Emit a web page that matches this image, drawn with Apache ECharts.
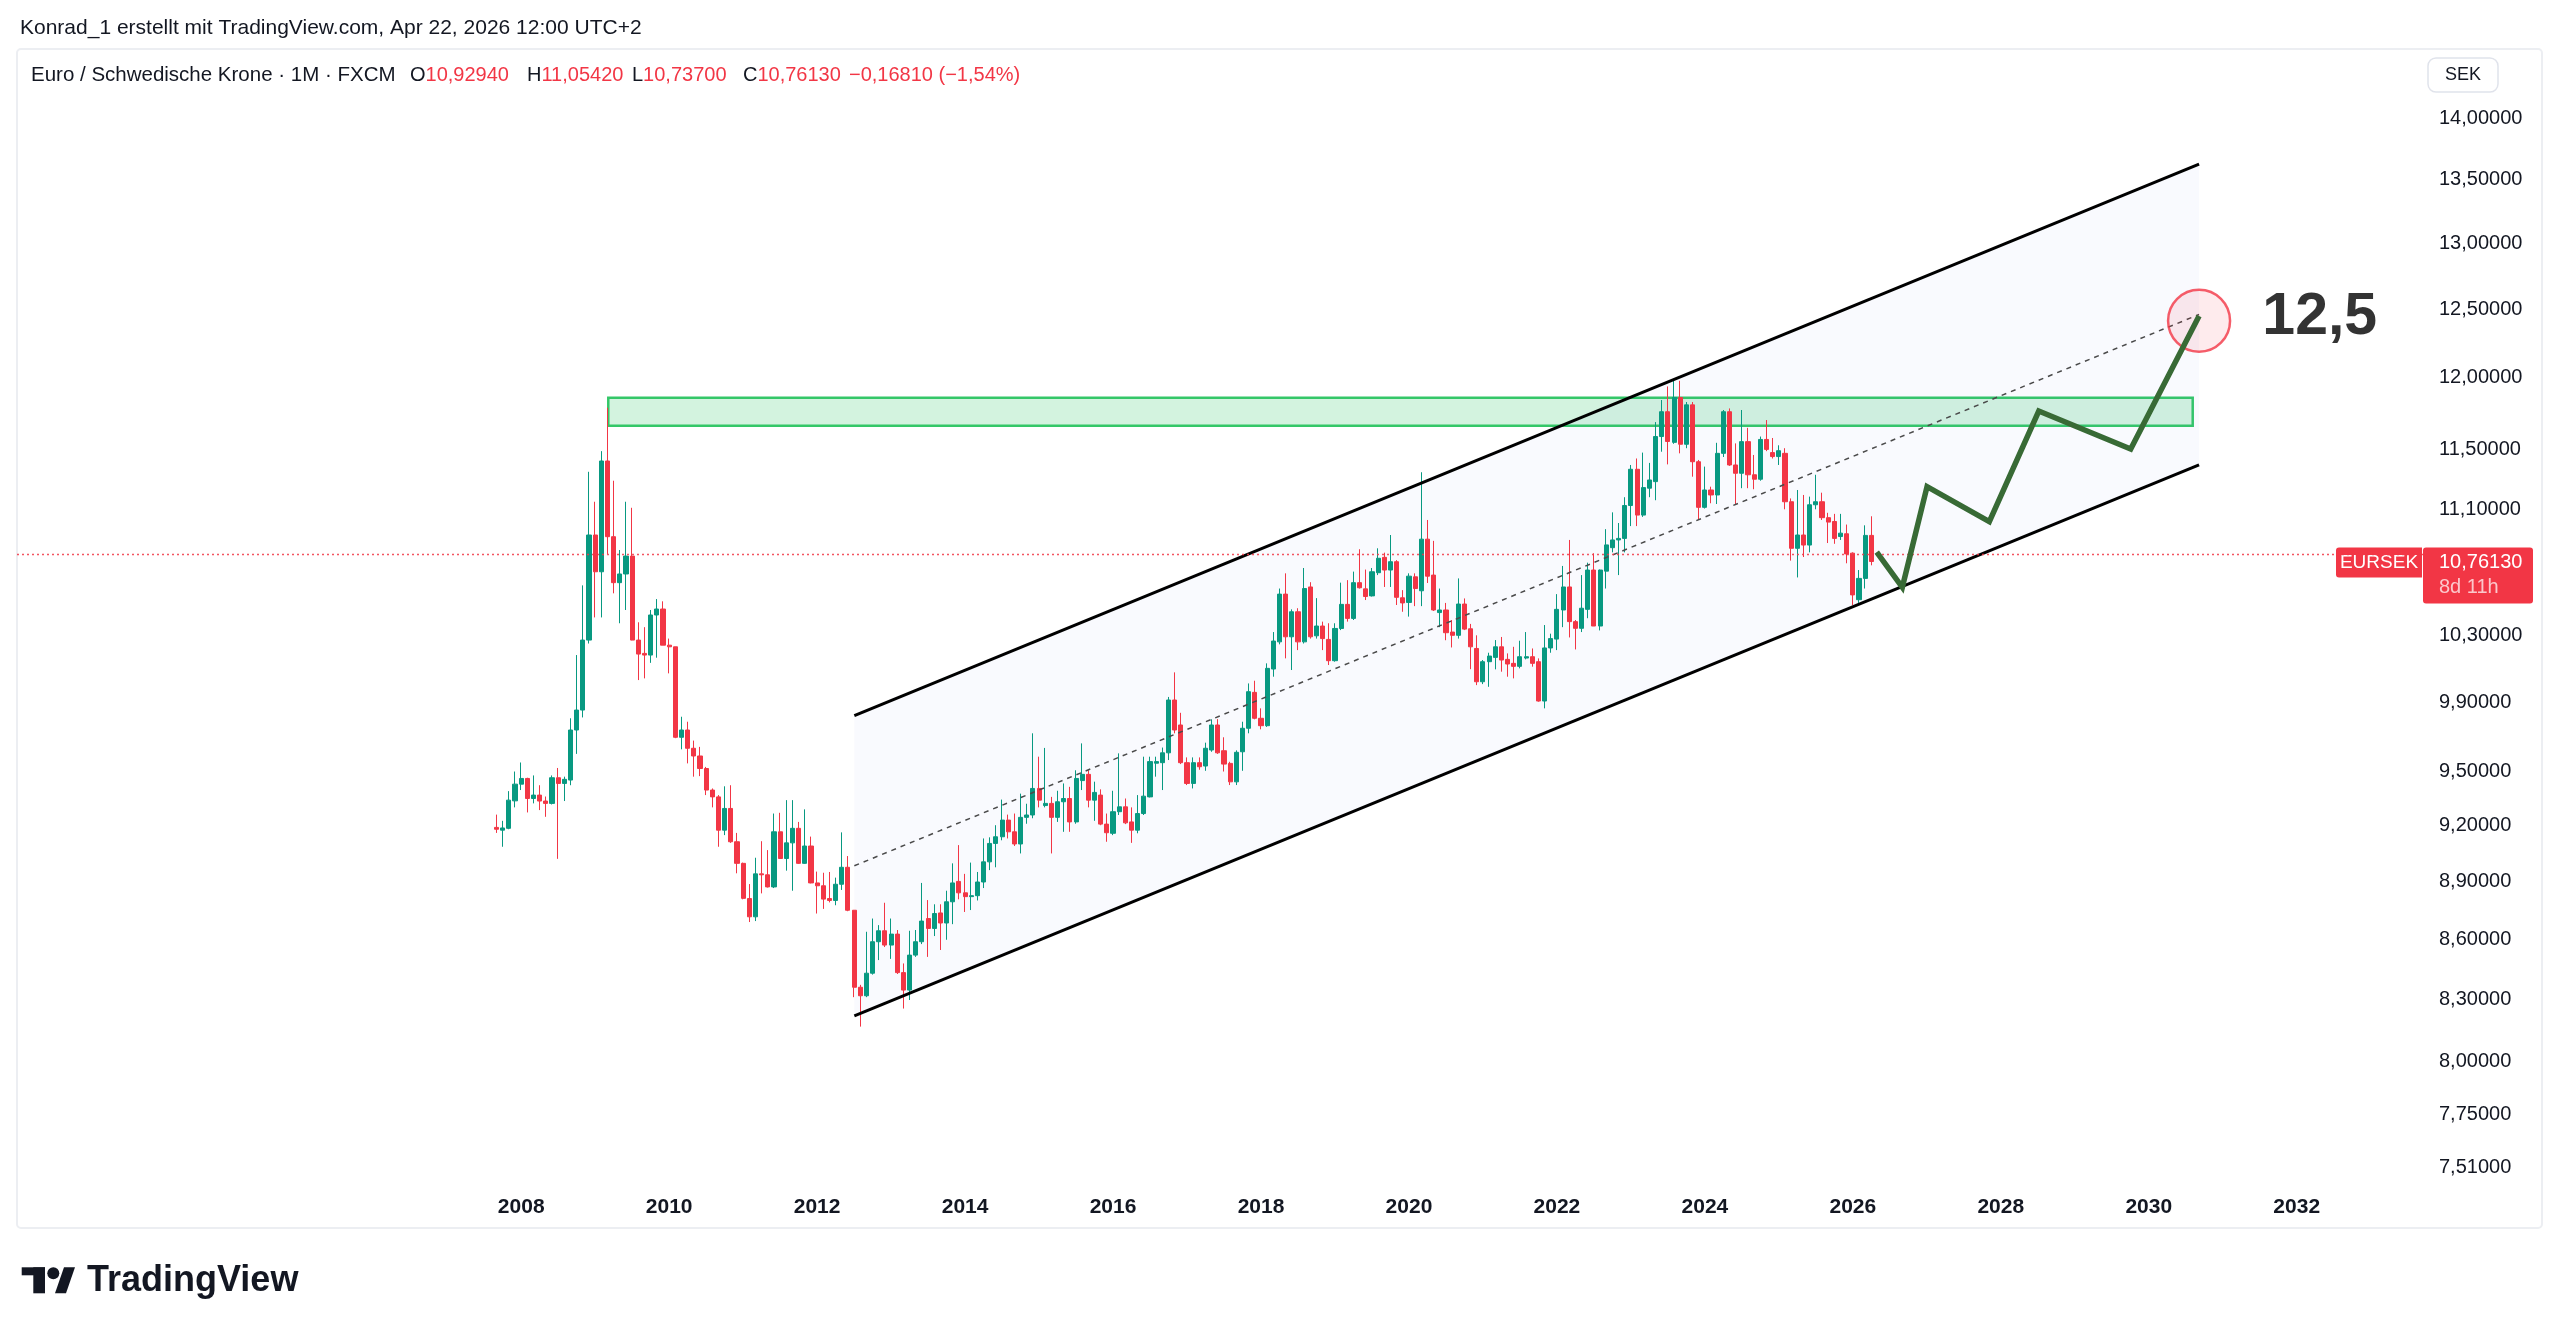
<!DOCTYPE html>
<html>
<head>
<meta charset="utf-8">
<title>Euro / Schwedische Krone</title>
<script src="https://cdn.jsdelivr.net/npm/echarts@6/dist/echarts.min.js"></script>
<style>
  html, body { margin: 0; padding: 0; background: #fff; }
  #chart { width: 2560px; height: 1335px; }
</style>
</head>
<body>
<div id="chart"></div>
<script>
// monthly candles [open, high, low, close], first one is Sep 2007
const firstYear = 2007, firstMonth = 9;
const candles = [
  [9.19,9.26,9.16,9.18],[9.175,9.226,9.085,9.187],[9.185,9.39,9.18,9.34],[9.336,9.5,9.3,9.429],
  [9.429,9.551,9.396,9.461],[9.461,9.465,9.272,9.349],[9.349,9.478,9.322,9.368],[9.368,9.423,9.285,9.335],[9.335,9.36,9.248,9.322],[9.322,9.478,9.316,9.465],[9.465,9.52,9.02,9.433],[9.433,9.471,9.335,9.456],[9.452,9.805,9.423,9.737],[9.737,10.18,9.6,9.853],[9.853,10.61,9.81,10.271],[10.271,11.35,10.25,10.932],
  [10.932,11.15,10.41,10.696],[10.696,11.49,10.41,11.423],[11.423,11.79,10.81,10.921],[10.921,11.29,10.56,10.627],[10.627,10.835,10.374,10.682],[10.682,11.15,10.456,10.796],[10.796,11.11,10.27,10.271],[10.271,10.38,10.03,10.186],[10.19,10.35,10.04,10.18],[10.18,10.456,10.133,10.425],[10.425,10.524,10.164,10.462],[10.462,10.51,10.24,10.24],
  [10.24,10.28,10.07,10.23],[10.23,10.23,9.69,9.695],[9.695,9.814,9.626,9.737],[9.737,9.785,9.546,9.632],[9.632,9.676,9.471,9.588],[9.588,9.64,9.474,9.517],[9.517,9.526,9.368,9.396],[9.396,9.405,9.3,9.358],[9.358,9.368,9.085,9.175],[9.175,9.417,9.148,9.294],[9.294,9.423,9.106,9.112],[9.112,9.16,8.943,8.996],
  [8.996,9.0,8.806,8.811],[8.81,8.886,8.688,8.715],[8.715,9.026,8.693,8.94],[8.94,9.115,8.837,8.935],[8.935,9.067,8.868,8.871],[8.871,9.266,8.865,9.166],[9.166,9.27,9.02,9.022],[9.022,9.34,8.957,9.106],[9.106,9.34,8.851,9.185],[9.185,9.22,8.993,8.996],[8.996,9.289,8.993,9.089],[9.089,9.14,8.89,8.892],
  [8.892,8.952,8.732,8.877],[8.877,8.946,8.756,8.807],[8.81,8.95,8.79,8.8],[8.8,8.92,8.775,8.885],[8.885,9.163,8.855,8.975],[8.975,9.035,8.744,8.749],[8.749,8.749,8.309,8.358],[8.358,8.37,8.165,8.316],[8.316,8.638,8.309,8.428],[8.428,8.706,8.421,8.587],[8.587,8.672,8.494,8.643],[8.643,8.788,8.56,8.57],
  [8.57,8.706,8.5,8.626],[8.626,8.647,8.424,8.431],[8.431,8.477,8.253,8.344],[8.344,8.643,8.295,8.519],[8.519,8.647,8.51,8.587],[8.587,8.892,8.575,8.693],[8.706,8.802,8.51,8.655],[8.655,8.78,8.616,8.732],[8.735,8.78,8.545,8.683],[8.683,8.851,8.597,8.793],[8.793,8.996,8.677,8.892],[8.9,9.094,8.806,8.84],
  [8.84,8.94,8.74,8.82],[8.82,9.0,8.75,8.825],[8.825,8.95,8.8,8.897],[8.897,9.13,8.865,9.004],[9.004,9.136,8.96,9.103],[9.103,9.202,8.975,9.139],[9.139,9.343,9.12,9.23],[9.23,9.26,9.13,9.166],[9.166,9.266,9.089,9.1],[9.1,9.376,9.049,9.245],[9.245,9.32,9.21,9.258],[9.258,9.718,9.24,9.405],
  [9.405,9.584,9.3,9.34],[9.31,9.634,9.3,9.322],[9.322,9.358,9.049,9.245],[9.245,9.392,9.22,9.331],[9.331,9.433,9.166,9.349],[9.349,9.414,9.166,9.22],[9.22,9.507,9.21,9.461],[9.449,9.66,9.396,9.484],[9.484,9.507,9.3,9.34],[9.34,9.443,9.226,9.383],[9.368,9.4,9.202,9.208],[9.208,9.266,9.112,9.161],
  [9.158,9.392,9.148,9.276],[9.276,9.603,9.258,9.303],[9.303,9.349,9.208,9.215],[9.22,9.3,9.106,9.175],[9.175,9.368,9.158,9.266],[9.266,9.584,9.258,9.362],[9.358,9.584,9.355,9.556],[9.547,9.584,9.471,9.556],[9.55,9.636,9.396,9.606],[9.606,9.93,9.565,9.912],[9.912,10.076,9.718,9.737],[9.766,9.837,9.542,9.55],
  [9.55,9.58,9.424,9.433],[9.433,9.58,9.405,9.55],[9.55,9.58,9.51,9.527],[9.531,9.664,9.504,9.632],[9.622,9.799,9.612,9.766],[9.766,9.8,9.6,9.606],[9.618,9.695,9.5,9.542],[9.546,9.555,9.424,9.442],[9.442,9.62,9.424,9.609],[9.612,9.785,9.504,9.747],[9.747,10.01,9.718,9.961],[9.957,10.026,9.799,9.805],
  [9.805,9.863,9.741,9.762],[9.762,10.13,9.755,10.1],[10.096,10.32,10.05,10.265],[10.26,10.59,10.245,10.555],[10.555,10.686,10.16,10.291],[10.291,10.46,10.09,10.445],[10.445,10.467,10.21,10.26],[10.26,10.72,10.25,10.59],[10.6,10.63,10.28,10.291],[10.297,10.53,10.28,10.357],[10.357,10.384,10.21,10.28],[10.275,10.374,10.12,10.146],
  [10.146,10.374,10.14,10.342],[10.342,10.627,10.332,10.491],[10.491,10.643,10.384,10.404],[10.404,10.697,10.394,10.627],[10.627,10.84,10.59,10.595],[10.588,10.71,10.518,10.54],[10.544,10.72,10.54,10.696],[10.69,10.846,10.675,10.782],[10.788,10.818,10.6,10.707],[10.707,10.932,10.6,10.76],[10.76,10.77,10.487,10.535],[10.532,10.58,10.445,10.5],
  [10.503,10.686,10.415,10.668],[10.664,10.686,10.48,10.59],[10.576,11.347,10.48,10.905],[10.905,11.03,10.625,10.668],[10.675,10.894,10.45,10.456],[10.44,10.59,10.35,10.456],[10.456,10.5,10.27,10.316],[10.32,10.394,10.226,10.3],[10.3,10.654,10.28,10.493],[10.493,10.528,10.332,10.338],[10.34,10.37,10.095,10.23],[10.22,10.3,10.0,10.02],
  [10.02,10.15,10.006,10.14],[10.14,10.194,9.99,10.174],[10.166,10.271,10.094,10.23],[10.23,10.29,10.08,10.15],[10.154,10.19,10.05,10.126],[10.13,10.23,10.04,10.112],[10.112,10.267,10.1,10.17],[10.162,10.32,10.154,10.17],[10.17,10.22,10.11,10.13],[10.14,10.16,9.902,9.906],[9.906,10.363,9.863,10.223],[10.223,10.31,10.194,10.28],
  [10.277,10.555,10.21,10.46],[10.456,10.733,10.35,10.6],[10.6,10.9,10.287,10.384],[10.384,10.394,10.214,10.343],[10.343,10.675,10.32,10.467],[10.46,10.754,10.405,10.707],[10.707,10.814,10.357,10.357],[10.357,10.71,10.33,10.707],[10.7,10.97,10.59,10.868],[10.85,11.08,10.82,10.9],[10.9,11.01,10.675,10.91],[10.91,11.18,10.82,11.125],
  [11.125,11.396,10.99,11.367],[11.367,11.44,10.99,11.062],[11.062,11.48,11.05,11.244],[11.24,11.41,11.18,11.295],[11.284,11.69,11.16,11.59],[11.59,11.844,11.486,11.762],[11.762,11.94,11.4,11.556],[11.55,11.986,11.54,11.862],[11.862,11.98,11.475,11.537],[11.537,11.83,11.51,11.81],[11.81,11.83,11.317,11.418],[11.418,11.43,11.03,11.113],
  [11.113,11.385,11.105,11.228],[11.228,11.25,11.14,11.195],[11.195,11.547,11.135,11.475],[11.475,11.774,11.45,11.762],[11.762,11.785,11.39,11.396],[11.396,11.543,11.135,11.34],[11.34,11.774,11.24,11.555],[11.555,11.65,11.24,11.33],[11.33,11.464,11.233,11.3],[11.3,11.59,11.29,11.57],[11.57,11.704,11.49,11.502],[11.48,11.58,11.44,11.453],
  [11.453,11.53,11.396,11.493],[11.475,11.51,11.1,11.15],[11.15,11.172,10.767,10.846],[10.846,11.228,10.66,10.932],[10.932,11.195,10.79,10.867],[10.867,11.184,10.82,11.13],[11.13,11.33,11.1,11.15],[11.15,11.21,11.03,11.045],[11.045,11.077,10.88,11.016],[11.02,11.07,10.875,10.91],[10.922,11.07,10.9,10.944],[10.94,11.0,10.75,10.81],
  [10.815,10.82,10.487,10.55],[10.52,10.707,10.5,10.654],[10.654,10.995,10.59,10.9294],[10.9294,11.0542,10.737,10.7613]
];

const priceTicks = [14, 13.5, 13, 12.5, 12, 11.5, 11.1, 10.3, 9.9, 9.5, 9.2, 8.9, 8.6, 8.3, 8, 7.75, 7.51];
const yearTicks = [2008, 2010, 2012, 2014, 2016, 2018, 2020, 2022, 2024, 2026, 2028, 2030, 2032];

// parallel channel, time in years
const channelTime = [2012.503, 2030.68];
const channelUpper = [9.82, 13.625];
const channelMid = [8.983, 12.461];
const channelLower = [8.217, 11.396];

// resistance zone
const zoneTime = [2009.177, 2030.594];
const zonePrice = [11.665, 11.86];

// projected path
const pathTime = [2026.323, 2026.669, 2027.003, 2027.845, 2028.513, 2029.756, 2030.68];
const pathPrice = [10.821, 10.598, 11.25, 11.019, 11.767, 11.504, 12.45];

// target
const targetTime = 2030.68, targetPrice = 12.415, targetText = '12,5';

const author = 'Konrad_1 erstellt mit TradingView.com, Apr 22, 2026 12:00 UTC+2';
const symbolName = 'Euro / Schwedische Krone · 1M · FXCM';
const tickerName = 'EURSEK', currency = 'SEK', countdown = '8d 11h';

const FONT = '"Liberation Sans", Arial, sans-serif';
const UP = '#089981', DOWN = '#f23645', TXT = '#131722';

const ln = Math.log;
const fmt = v => v.toFixed(5).replace('.', ',');

const candleData = candles.map((c, i) => [
  firstYear + (firstMonth - 1 + i) / 12, ln(c[0]), ln(c[3]), ln(c[2]), ln(c[1])
]);
const last = candles[candles.length - 1];
const prevClose = candles[candles.length - 2][3];
const lastClose = last[3];
const change = lastClose - prevClose;
const changePct = change / prevClose * 100;

const chart = echarts.init(document.getElementById('chart'));

const option = {
  animation: false,
  backgroundColor: '#fff',
  grid: { left: 17, right: 137, top: 49, bottom: 148, containLabel: false, outerBoundsMode: 'none' },
  xAxis: {
    type: 'value',
    min: 2001.1846,
    max: 2033.7069,
    axisLine: { show: false },
    axisTick: { show: false },
    splitLine: { show: false },
    axisLabel: {
      customValues: yearTicks,
      formatter: v => String(Math.round(v)),
      color: TXT, fontSize: 21, fontWeight: 'bold', fontFamily: FONT, margin: 10
    }
  },
  yAxis: {
    type: 'value',
    position: 'right',
    min: ln(7.4235),
    max: ln(14.588),
    axisLine: { show: false },
    axisTick: { show: false },
    splitLine: { show: false },
    axisLabel: {
      customValues: priceTicks.map(ln),
      formatter: v => fmt(Math.exp(v)),
      color: TXT, fontSize: 20, fontFamily: FONT, margin: 16
    }
  },
  series: [
    {
      type: 'custom',
      z: 1,
      silent: true,
      data: [[channelTime[0], ln(channelLower[0])]],
      renderItem: (params, api) => ({
        type: 'polygon',
        shape: { points: [
          api.coord([channelTime[0], ln(channelUpper[0])]),
          api.coord([channelTime[1], ln(channelUpper[1])]),
          api.coord([channelTime[1], ln(channelLower[1])]),
          api.coord([channelTime[0], ln(channelLower[0])])
        ] },
        style: { fill: 'rgba(80,100,230,0.035)' }
      })
    },
    {
      type: 'candlestick',
      z: 2,
      barWidth: 4.6,
      data: candleData,
      itemStyle: { color: UP, color0: DOWN, borderColor: UP, borderColor0: DOWN, borderWidth: 1 },
      markLine: {
        silent: true,
        symbol: ['none', 'none'],
        label: { show: false },
        lineStyle: { color: DOWN, type: [2, 3], width: 1.4, opacity: 0.85 },
        data: [{ yAxis: ln(lastClose) }]
      },
      markArea: {
        silent: true,
        itemStyle: { color: 'rgba(34,197,94,0.2)', borderColor: '#34c768', borderWidth: 2.5 },
        data: [[
          { coord: [zoneTime[0], ln(zonePrice[1])] },
          { coord: [zoneTime[1], ln(zonePrice[0])] }
        ]]
      }
    },
    {
      type: 'line', z: 4, silent: true, showSymbol: false,
      data: channelTime.map((t, i) => [t, ln(channelUpper[i])]),
      lineStyle: { color: '#000', width: 3 }
    },
    {
      type: 'line', z: 4, silent: true, showSymbol: false,
      data: channelTime.map((t, i) => [t, ln(channelLower[i])]),
      lineStyle: { color: '#000', width: 3 }
    },
    {
      type: 'line', z: 4, silent: true, showSymbol: false,
      data: channelTime.map((t, i) => [t, ln(channelMid[i])]),
      lineStyle: { color: '#4a4a4a', width: 1.5, type: [5, 5] }
    },
    {
      type: 'scatter', z: 5, silent: true,
      data: [[targetTime, ln(targetPrice)]],
      symbol: 'circle',
      symbolSize: 62,
      itemStyle: { color: 'rgba(242,54,69,0.12)', borderColor: DOWN, borderWidth: 2.5 },
      label: {
        show: true, position: 'right', distance: 31, offset: [0, -3],
        formatter: targetText,
        color: '#000', fontSize: 59, fontWeight: 'bold', fontFamily: FONT
      }
    },
    {
      type: 'line', z: 6, silent: true, showSymbol: false,
      data: pathTime.map((t, i) => [t, ln(pathPrice[i])]),
      lineStyle: { color: '#386a35', width: 5.5, join: 'miter' }
    }
  ]
};

chart.setOption(option);

const yNow = chart.convertToPixel({ yAxisIndex: 0 }, ln(lastClose));
const legendParts = [
  { x: 410, k: 'O', v: fmt(last[0]) },
  { x: 527, k: 'H', v: fmt(last[1]) },
  { x: 632, k: 'L', v: fmt(last[2]) },
  { x: 743, k: 'C', v: fmt(last[3]) },
  { x: 849, k: '', v: '\u2212' + fmt(Math.abs(change)) + ' (\u2212' + Math.abs(changePct).toFixed(2).replace('.', ',') + '%)' }
];

const graphic = [
  { type: 'rect', silent: true, shape: { x: 17, y: 49, width: 2525, height: 1179, r: 4 },
    style: { fill: 'none', stroke: '#eceef2', lineWidth: 2 } },
  { type: 'text', x: 20, y: 28, style: { text: author, fill: TXT, fontSize: 21, fontFamily: FONT, verticalAlign: 'middle' } },
  { type: 'text', x: 31, y: 75, style: { text: symbolName, fill: TXT, fontSize: 20.5, fontFamily: FONT, verticalAlign: 'middle' } },
  ...legendParts.map(p => ({
    type: 'text', x: p.x, y: 75,
    style: {
      text: (p.k ? '{k|' + p.k + '}' : '') + '{v|' + p.v + '}',
      verticalAlign: 'middle',
      rich: {
        k: { fill: TXT, fontSize: 20, fontFamily: FONT },
        v: { fill: DOWN, fontSize: 20, fontFamily: FONT }
      }
    }
  })),
  { type: 'rect', shape: { x: 2428, y: 58, width: 70, height: 34, r: 8 },
    style: { fill: '#fff', stroke: '#e0e3eb', lineWidth: 1.5 } },
  { type: 'text', x: 2463, y: 75, style: { text: currency, fill: TXT, fontSize: 18, fontFamily: FONT, align: 'center', verticalAlign: 'middle' } },
  // current price tags
  { type: 'rect', shape: { x: 2336, y: yNow - 14, width: 86, height: 30, r: [3, 0, 0, 3] }, style: { fill: DOWN } },
  { type: 'text', x: 2379, y: yNow + 1, style: { text: tickerName, fill: '#fff', fontSize: 19, fontFamily: FONT, align: 'center', verticalAlign: 'middle' } },
  { type: 'rect', shape: { x: 2423, y: yNow - 14, width: 110, height: 56, r: 3 }, style: { fill: DOWN } },
  { type: 'text', x: 2439, y: yNow + 1, style: { text: fmt(lastClose), fill: '#fff', fontSize: 20, fontFamily: FONT, verticalAlign: 'middle' } },
  { type: 'text', x: 2439, y: yNow + 26, style: { text: countdown, fill: 'rgba(255,255,255,0.72)', fontSize: 20, fontFamily: FONT, verticalAlign: 'middle' } },
  // logo
  { type: 'rect', shape: { x: 21.7, y: 1267.3, width: 23.3, height: 8 }, style: { fill: TXT } },
  { type: 'rect', shape: { x: 33.3, y: 1267.3, width: 11.7, height: 26 }, style: { fill: TXT } },
  { type: 'circle', shape: { cx: 53.3, cy: 1273.3, r: 6 }, style: { fill: TXT } },
  { type: 'polygon', shape: { points: [[64, 1267.3], [75, 1267.3], [66, 1293.3], [55, 1293.3]] }, style: { fill: TXT } },
  { type: 'text', x: 87, y: 1281, style: { text: 'TradingView', fill: TXT, fontSize: 36, fontWeight: 'bold', fontFamily: FONT, verticalAlign: 'middle' } }
];

chart.setOption({ graphic: graphic });
</script>
</body>
</html>
